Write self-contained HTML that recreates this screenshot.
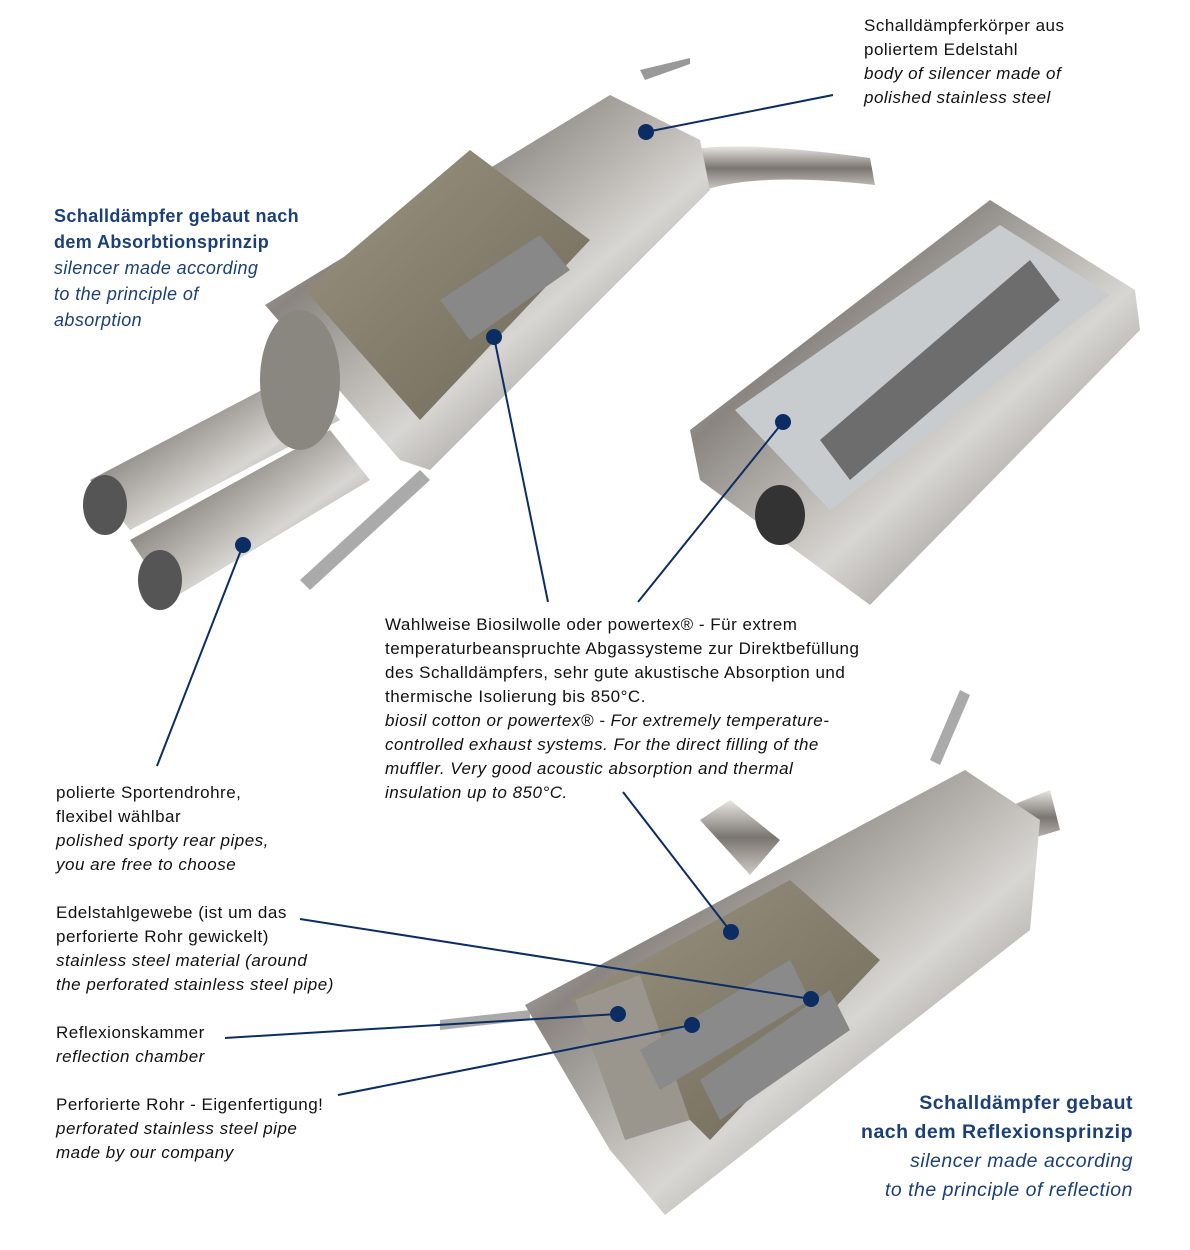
<!DOCTYPE html>
<html><head><meta charset="utf-8"><style>
html,body{margin:0;padding:0;background:#fff;}
body{width:1190px;height:1250px;position:relative;overflow:hidden;font-family:"Liberation Sans",sans-serif;}
.t{position:absolute;font-size:17px;letter-spacing:0.5px;line-height:24px;color:#111;white-space:nowrap;}
.i{font-style:italic;}
.h{color:#1b3f78;font-weight:bold;font-size:18px;letter-spacing:0.4px;line-height:26px;}
.hi{color:#1b3f78;font-style:italic;font-size:18px;letter-spacing:0.4px;line-height:26px;}
svg{position:absolute;left:0;top:0;}
</style></head><body>
<svg width="1190" height="1250" viewBox="0 0 1190 1250">
<defs>
<linearGradient id="g1" x1="0" y1="0" x2="1" y2="1">
<stop offset="0" stop-color="#f2f2f2"/><stop offset="0.3" stop-color="#8a8580"/><stop offset="0.6" stop-color="#d8d6d2"/><stop offset="1" stop-color="#5a5652"/></linearGradient>
<linearGradient id="g2" x1="0" y1="0" x2="0" y2="1">
<stop offset="0" stop-color="#e8e6e2"/><stop offset="0.5" stop-color="#7a7570"/><stop offset="1" stop-color="#cfcac4"/></linearGradient>
<linearGradient id="wool" x1="0" y1="0" x2="1" y2="1">
<stop offset="0" stop-color="#9c9482"/><stop offset="1" stop-color="#6e6858"/></linearGradient>
</defs>
<polygon points="640,70 690,58 690,64 645,80" fill="#999"/>
<path d="M690,150 Q740,140 870,158 L875,185 Q760,172 705,190 Z" fill="url(#g2)"/>
<polygon points="90,480 300,370 340,420 130,530" fill="url(#g1)"/>
<polygon points="130,540 330,430 370,480 170,600" fill="url(#g1)"/>
<ellipse cx="105" cy="505" rx="22" ry="30" fill="#555"/>
<ellipse cx="160" cy="580" rx="22" ry="30" fill="#555"/>
<polygon points="265,305 610,95 700,140 710,190 430,470 400,460" fill="url(#g1)"/>
<polygon points="305,290 470,150 590,240 420,420" fill="url(#wool)"/>
<polygon points="440,300 540,235 570,270 470,340" fill="#888"/>
<ellipse cx="300" cy="380" rx="40" ry="70" fill="#8a8680"/>
<polygon points="300,580 420,470 430,480 310,590" fill="#aaa"/>
<polygon points="690,430 990,200 1135,290 1140,330 870,605 700,480" fill="url(#g1)"/>
<polygon points="735,410 1000,225 1110,295 830,510" fill="#c9ccce"/>
<polygon points="820,440 1030,260 1060,300 850,480" fill="#6d6d6d"/>
<ellipse cx="780" cy="515" rx="25" ry="30" fill="#333"/>
<polygon points="930,760 960,690 970,695 940,765" fill="#aaa"/>
<polygon points="700,820 730,800 780,840 750,875" fill="url(#g2)"/>
<polygon points="1000,810 1050,790 1060,830 1010,845" fill="url(#g2)"/>
<polygon points="440,1020 530,1010 530,1020 440,1030" fill="#aaa"/>
<polygon points="525,1005 965,770 1040,820 1030,930 665,1215 610,1150" fill="url(#g1)"/>
<polygon points="570,1000 790,880 880,960 710,1140" fill="url(#wool)"/>
<polygon points="575,1000 640,975 690,1120 625,1140" fill="#9a968e"/>
<polygon points="640,1050 790,960 810,1000 660,1090" fill="#8a8a8a"/>
<polygon points="700,1080 830,990 850,1030 720,1120" fill="#888"/>
<g stroke="#0c2d64" stroke-width="2" fill="none">
<line x1="646" y1="132" x2="833" y2="95"/>
<line x1="494" y1="337" x2="548" y2="602"/>
<line x1="783" y1="422" x2="638" y2="602"/>
<line x1="243" y1="545" x2="157" y2="766"/>
<line x1="731" y1="932" x2="623" y2="792"/>
<line x1="811" y1="999" x2="300" y2="919"/>
<line x1="618" y1="1014" x2="225" y2="1038"/>
<line x1="692" y1="1025" x2="338" y2="1095"/>
</g>
<g fill="#0c2d64">
<circle cx="646" cy="132" r="8"/><circle cx="494" cy="337" r="8"/><circle cx="783" cy="422" r="8"/>
<circle cx="243" cy="545" r="8"/><circle cx="731" cy="932" r="8"/><circle cx="811" cy="999" r="8"/>
<circle cx="618" cy="1014" r="8"/><circle cx="692" cy="1025" r="8"/>
</g>
</svg>
<div class="t" style="left:864px;top:14px">Schalldämpferkörper aus<br>poliertem Edelstahl<br><span class="i">body of silencer made of<br>polished stainless steel</span></div>
<div class="t" style="left:54px;top:203px"><span class="h">Schalldämpfer gebaut nach<br>dem Absorbtionsprinzip</span><br><span class="hi">silencer made according<br>to the principle of<br>absorption</span></div>
<div class="t" style="left:385px;top:613px">Wahlweise Biosilwolle oder powertex® - Für extrem<br>temperaturbeanspruchte Abgassysteme zur Direktbefüllung<br>des Schalldämpfers, sehr gute akustische Absorption und<br>thermische Isolierung bis 850°C.<br><span class="i">biosil cotton or powertex® - For extremely temperature-<br>controlled exhaust systems. For the direct filling of the<br>muffler. Very good acoustic absorption and thermal<br>insulation up to 850°C.</span></div>
<div class="t" style="left:56px;top:781px">polierte Sportendrohre,<br>flexibel wählbar<br><span class="i">polished sporty rear pipes,<br>you are free to choose</span></div>
<div class="t" style="left:56px;top:901px">Edelstahlgewebe (ist um das<br>perforierte Rohr gewickelt)<br><span class="i">stainless steel material (around<br>the perforated stainless steel pipe)</span></div>
<div class="t" style="left:56px;top:1021px">Reflexionskammer<br><span class="i">reflection chamber</span></div>
<div class="t" style="left:56px;top:1093px">Perforierte Rohr - Eigenfertigung!<br><span class="i">perforated stainless steel pipe<br>made by our company</span></div>
<div class="t" style="right:57px;top:1089px;text-align:right;line-height:28px"><span class="h" style="font-size:19.5px;letter-spacing:0.5px;line-height:28px">Schalldämpfer gebaut<br>nach dem Reflexionsprinzip</span><br><span class="hi" style="font-size:19.5px;letter-spacing:0.5px;line-height:28px">silencer made according<br>to the principle of reflection</span></div>
</body></html>
